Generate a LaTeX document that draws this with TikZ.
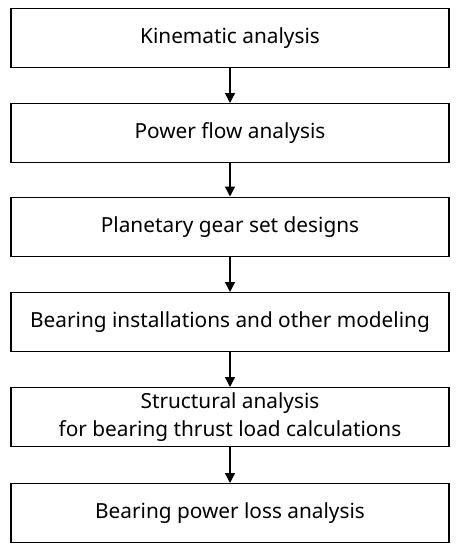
\documentclass[tikz,border=0pt]{standalone}
\usepackage{fontspec}
\setmainfont{Noto Sans}
\usetikzlibrary{arrows.meta}
\begin{document}
\begin{tikzpicture}[x=1pt,y=-1pt,
  stepbox/.style={draw=black, line width=1.4pt, minimum width=438pt, minimum height=59pt, inner sep=0pt, align=center, font=\fontsize{20.8}{28.5}\selectfont, anchor=north},
  flow/.style={-{Triangle[length=10pt,width=10pt]}, line width=1.4pt}]
\useasboundingbox (0,0) rectangle (460,550);
\node[stepbox] (a) at (230,7.5) {Kinematic analysis};
\node[stepbox] (b) at (230,103) {Power flow analysis};
\node[stepbox] (c) at (230,196.5) {Planetary gear set designs};
\node[stepbox] (d) at (230,292) {Bearing installations and other modeling};
\node[stepbox] (e) at (230,387) {Structural analysis\\for bearing thrust load calculations};
\node[stepbox] (f) at (230,483) {Bearing power loss analysis};
\draw[flow] (a.south) -- (b.north);
\draw[flow] (b.south) -- (c.north);
\draw[flow] (c.south) -- (d.north);
\draw[flow] (d.south) -- (e.north);
\draw[flow] (e.south) -- (f.north);
\end{tikzpicture}
\end{document}
